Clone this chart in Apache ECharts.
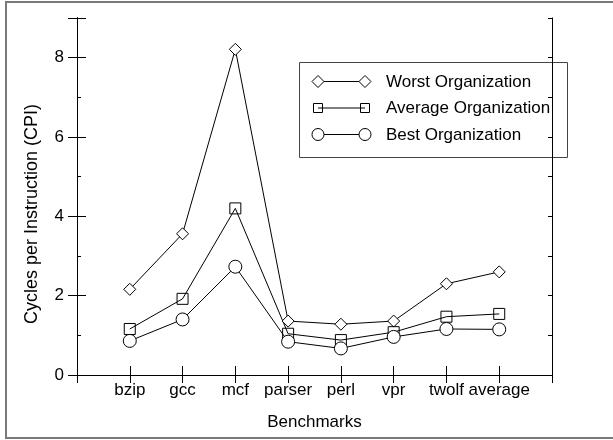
<!DOCTYPE html>
<html>
<head>
<meta charset="utf-8">
<script src="https://cdn.jsdelivr.net/npm/echarts@6/dist/echarts.min.js"></script>
<style>
  html, body { margin: 0; padding: 0; background: #fff; }
  #chart { width: 613px; height: 440px; }
</style>
</head>
<body>
<div id="chart"></div>
<script>
// Benchmarks on the x axis, cycles per instruction on the y axis
const categories = ['bzip', 'gcc', 'mcf', 'parser', 'perl', 'vpr', 'twolf', 'average'];
const worstOrg   = [2.16, 3.56, 8.21, 1.36, 1.28, 1.36, 2.30, 2.60];
const averageOrg = [1.16, 1.92, 4.20, 1.04, 0.88, 1.08, 1.47, 1.54];
const bestOrg    = [0.86, 1.40, 2.73, 0.84, 0.67, 0.96, 1.16, 1.15];
const seriesNames = ['Worst Organization', 'Average Organization', 'Best Organization'];
const yTickLabels = [0, 2, 4, 6, 8];

const FONT = "'Liberation Sans', Arial, Helvetica, sans-serif";
const gridBox = { left: 77, top: 18, right: 61, bottom: 65 };

// place each category at x = 1..8 on a 0..9 value axis
const toPoints = vals => vals.map((v, i) => [i + 1, v]);

const lineStyle = { color: '#000', width: 1 };

function mkSeries(name, vals, symbol, size, fill) {
  return {
    name: name,
    type: 'line',
    xAxisIndex: 0,
    yAxisIndex: 0,
    data: toPoints(vals),
    symbol: symbol,
    symbolSize: size,
    showAllSymbol: true,
    lineStyle: lineStyle,
    itemStyle: { color: fill, borderColor: '#000', borderWidth: 1 },
    emphasis: { disabled: true },
    animation: false
  };
}

const axisLine = { show: true, lineStyle: { color: '#000', width: 1 } };

// ticks point into the plot area
function innerTick(len) {
  return { show: true, inside: false, length: -len, lineStyle: { color: '#000' } };
}

const xBase = { type: 'value', min: 0, max: 9, interval: 1, splitLine: { show: false }, axisLine: axisLine };
const yBase = { type: 'value', min: 0, max: 9, splitLine: { show: false }, axisLine: axisLine };

// legend drawn as marker - line - marker rows
const legendX = 299, legendY = 62, legendW = 268, legendH = 95;
const rowY = [81, 107.5, 134];
const markL = 318, markR = 365, textX = 386;

function legendMarker(kind, cx, cy) {
  if (kind === 'diamond') {
    return { type: 'polygon', shape: { points: [[cx, cy - 6], [cx + 6, cy], [cx, cy + 6], [cx - 6, cy]] },
             style: { fill: '#fff', stroke: '#000', lineWidth: 1 } };
  }
  if (kind === 'rect') {
    return { type: 'rect', shape: { x: cx - 4.5, y: cy - 4.5, width: 9, height: 9 },
             style: { fill: 'none', stroke: '#000', lineWidth: 1 } };
  }
  return { type: 'circle', shape: { cx: cx, cy: cy, r: 6 },
           style: { fill: '#fff', stroke: '#000', lineWidth: 1 } };
}

const kinds = ['diamond', 'rect', 'circle'];
const legendChildren = [
  { type: 'rect', shape: { x: legendX + 0.5, y: legendY + 0.5, width: legendW, height: legendH },
    style: { fill: '#fff', stroke: '#444', lineWidth: 1 } }
];
seriesNames.forEach((name, i) => {
  legendChildren.push({ type: 'line', shape: { x1: markL, y1: rowY[i] + 0.5, x2: markR, y2: rowY[i] + 0.5 },
                        style: { stroke: '#000', lineWidth: 1 } });
  legendChildren.push(legendMarker(kinds[i], markL, rowY[i] + 0.5));
  legendChildren.push(legendMarker(kinds[i], markR, rowY[i] + 0.5));
  legendChildren.push({ type: 'text', x: textX, y: rowY[i] + 1,
                        style: { text: name, fill: '#000', font: '17px ' + FONT, verticalAlign: 'middle', align: 'left' } });
});

const chart = echarts.init(document.getElementById('chart'), null, { renderer: 'canvas' });
chart.setOption({
  backgroundColor: '#fff',
  animation: false,
  textStyle: { fontFamily: FONT },
  grid: [
    Object.assign({}, gridBox),
    Object.assign({}, gridBox),
    Object.assign({}, gridBox)
  ],
  xAxis: [
    Object.assign({}, xBase, {
      gridIndex: 0, position: 'bottom',
      name: 'Benchmarks', nameLocation: 'middle', nameGap: 39,
      nameTextStyle: { fontSize: 17, color: '#000', fontFamily: FONT },
      axisTick: innerTick(9),
      axisLabel: { show: true, margin: 7, fontSize: 17, color: '#000', fontFamily: FONT,
                   formatter: v => categories[v - 1] || '' }
    }),
    Object.assign({}, xBase, {
      gridIndex: 1, position: 'top',
      axisTick: innerTick(8),
      axisLabel: { show: false }
    }),
    Object.assign({}, xBase, { gridIndex: 2, show: false })
  ],
  yAxis: [
    // major ticks and labels, left side
    Object.assign({}, yBase, {
      gridIndex: 0, position: 'left', interval: 2,
      axisTick: innerTick(9),
      axisLabel: { show: true, margin: 13, fontSize: 17, color: '#000', fontFamily: FONT,
                   formatter: v => (yTickLabels.indexOf(v) >= 0 ? String(v) : '') }
    }),
    // major ticks, right side
    Object.assign({}, yBase, {
      gridIndex: 1, position: 'right', interval: 2,
      axisTick: innerTick(9),
      axisLabel: { show: false }
    }),
    // minor ticks, both sides
    Object.assign({}, yBase, {
      gridIndex: 2, position: 'left', interval: 1,
      axisTick: innerTick(4),
      axisLabel: { show: false }
    }),
    Object.assign({}, yBase, {
      gridIndex: 2, position: 'right', interval: 1,
      axisTick: innerTick(4),
      axisLabel: { show: false }
    })
  ],
  series: [
    mkSeries(seriesNames[0], worstOrg, 'diamond', 12, '#fff'),
    mkSeries(seriesNames[1], averageOrg, 'rect', 11, 'rgba(255,255,255,0)'),
    mkSeries(seriesNames[2], bestOrg, 'circle', 13, '#fff')
  ],
  graphic: [
    // outer frame
    { type: 'rect', z: 100, silent: true,
      shape: { x: 6, y: 2, width: 700, height: 436 },
      style: { fill: 'none', stroke: '#7a7a7a', lineWidth: 2 } },
    // y axis title
    { type: 'text', z: 100, x: 32, y: 214, rotation: Math.PI / 2,
      style: { text: 'Cycles per Instruction (CPI)', fill: '#000', font: '18px ' + FONT,
               align: 'center', verticalAlign: 'middle' } },
    { type: 'group', z: 100, children: legendChildren }
  ]
});
</script>
</body>
</html>
